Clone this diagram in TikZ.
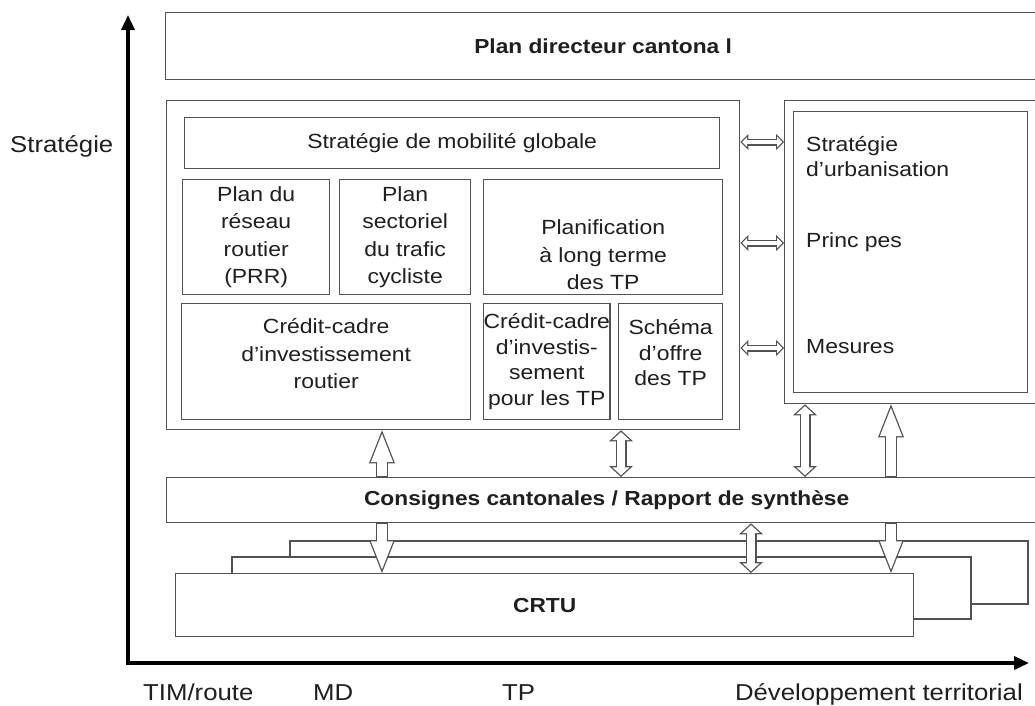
\documentclass[tikz,border=0pt]{standalone}
\usepackage{fontspec}
\setmainfont{Liberation Sans}[FakeStretch=1.12]
\usetikzlibrary{arrows.meta}

\definecolor{edge}{gray}{0.32}
\definecolor{ink}{gray}{0.12}
\newcommand\boxfont{\fontsize{20.5}{27.5}\selectfont}
\newcommand\tightfont{\fontsize{20.5}{25.7}\selectfont}
\newcommand\axisfont{\fontsize{23}{27}\selectfont}
\newcommand\headfont{\bfseries\fontsize{20.3}{24}\selectfont}

\tikzset{
 box/.style={draw=edge, line width=1.3pt, fill=white, inner sep=0pt, anchor=north west, align=center, text=ink, font=\boxfont},
 layer/.style={draw=edge, line width=1.3pt, fill=white},
 txt/.style={inner sep=0pt, align=center, text=ink, font=\boxfont},
 lbl/.style={inner sep=0pt, text=ink, font=\axisfont},
 axisline/.style={line width=3.5pt, {Triangle[length=15pt,width=13pt]}-{Triangle[length=15pt,width=13pt]}},
 % hollow arrows: dark outline, white inside
 one way/.style={draw=edge, line width=12pt,
   -{Triangle[length=33pt,width=26pt,line width=0pt]},
   postaction={draw=white, line width=9.4pt, shorten <=0.65pt, shorten >=3.55pt,
     -{Triangle[length=28.15pt,width=22.2pt,line width=0pt]}},
   postaction={draw=white, line width=9.4pt, shorten <=0.65pt, shorten >=31.2pt, -}},
 two way/.style={draw=edge, line width=11pt,
   {Triangle[length=11pt,width=24pt,line width=0pt]}-{Triangle[length=11pt,width=24pt,line width=0pt]},
   postaction={draw=white, line width=8.4pt, shorten <=1.76pt, shorten >=1.76pt,
     {Triangle[length=7.94pt,width=17.3pt,line width=0pt]}-{Triangle[length=7.94pt,width=17.3pt,line width=0pt]}},
   postaction={draw=white, line width=8.4pt, shorten <=9.3pt, shorten >=9.3pt, -}},
 side way/.style={draw=edge, line width=7pt,
   {Triangle[length=8pt,width=16pt,line width=0pt]}-{Triangle[length=8pt,width=16pt,line width=0pt]},
   postaction={draw=white, line width=4.6pt, shorten <=1.7pt, shorten >=1.7pt,
     {Triangle[length=5.1pt,width=10.2pt,line width=0pt]}-{Triangle[length=5.1pt,width=10.2pt,line width=0pt]}},
   postaction={draw=white, line width=4.6pt, shorten <=6.4pt, shorten >=6.4pt, -}},
}

\begin{document}
\begin{tikzpicture}[x=1pt,y=-1pt]
 \useasboundingbox[fill=white] (0,0) rectangle (1035,705);

 % axes
 \coordinate (ytop) at (128,15);
 \coordinate (o) at (128,663);
 \coordinate (xend) at (1029,663);
 \draw[axisline] (ytop) -- (o) -- (xend);
 \node[lbl, anchor=west] (ystrat) at (10,146) {Stratégie};
 \node[lbl, anchor=base west] (xtim) at (143,700) {TIM/route};
 \node[lbl, anchor=base west] (xmd) at (313,700) {MD};
 \node[lbl, anchor=base west] (xtp) at (502,700) {TP};
 \node[lbl, anchor=base east] (xdev) at (1023,700) {Développement territorial};

 % plan directeur
 \node[box, minimum width=875pt, minimum height=67pt, font=\headfont] (pdc) at (165,12) {Plan directeur cantona l};

 % mobilite
 \node[box, minimum width=573pt, minimum height=329pt] (mob) at (166,100) {};
 \node[box, minimum width=535pt, minimum height=51pt] (smg) at (184,117) {Stratégie de mobilité globale};
 \node[box, minimum width=147pt, minimum height=115pt] (prr) at (182,179) {Plan du\\réseau\\routier\\(PRR)};
 \node[box, minimum width=131pt, minimum height=115pt] (cyc) at (339,179) {Plan\\sectoriel\\du trafic\\cycliste};
 \node[box, minimum width=239pt, minimum height=115pt] (plt) at (483,179) {};
 \node[txt] (plt-t) at ([yshift=-18pt]plt.center) {Planification\\à long terme\\des TP};
 \node[box, minimum width=289pt, minimum height=116pt] (cri) at (181,303) {};
 \node[txt] (cri-t) at ([yshift=8pt]cri.center) {Crédit-cadre\\d’investissement\\routier};
 \node[box, minimum width=126pt, minimum height=116pt, font=\tightfont] (crt) at (483,303) {Crédit-cadre\\d’investis-\\sement\\pour les TP};
 \node[box, minimum width=104pt, minimum height=116pt] (sch) at (618,303) {};
 \node[txt, font=\tightfont] (sch-t) at ([yshift=9pt]sch.center) {Schéma\\d’offre\\des TP};

 % urbanisation
 \node[box, minimum width=270pt, minimum height=303pt] (urb) at (784,100) {};
 \node[box, minimum width=234pt, minimum height=281pt] (urbi) at (793,111) {};
 \node[txt, anchor=west, align=left, font=\fontsize{20.5}{25}\selectfont] (su) at (806,157) {Stratégie\\d’urbanisation};
 \node[txt, anchor=base west] (pri) at (806,247) {Princ pes};
 \node[txt, anchor=base west] (mes) at (806,353) {Mesures};

 % consignes + CRTU
 \node[box, minimum width=880pt, minimum height=45pt, font=\headfont] (csg) at (166,477) {Consignes cantonales / Rapport de synthèse};
 \draw[layer] (290,541) rectangle (1028,604);
 \draw[layer] (232,557) rectangle (971,619);
 \node[box, minimum width=738pt, minimum height=63pt, font=\headfont] (crtu) at (175,573) {CRTU};

 % arrows
 \coordinate (xa) at (382,0);
 \coordinate (xb) at (621,0);
 \coordinate (xc) at (805,0);
 \coordinate (xd) at (891,0);
 \coordinate (xe) at (751,0);
 \draw[one way] (xa |- csg.north) -- (xa |- mob.south);
 \draw[two way] (xb |- mob.south) -- (xb |- csg.north);
 \draw[two way] (xc |- urb.south) -- (xc |- csg.north);
 \draw[one way] (xd |- csg.north) -- (xd |- urb.south);
 \draw[one way] (xa |- csg.south) -- (xa |- crtu.north);
 \draw[two way] (xe |- csg.south) -- (xe |- crtu.north);
 \draw[one way] (xd |- csg.south) -- (xd |- crtu.north);
 \foreach \y in {142,243,348}
  \draw[side way] (mob.east |- 0,\y) -- (urb.west |- 0,\y);
\end{tikzpicture}
\end{document}
